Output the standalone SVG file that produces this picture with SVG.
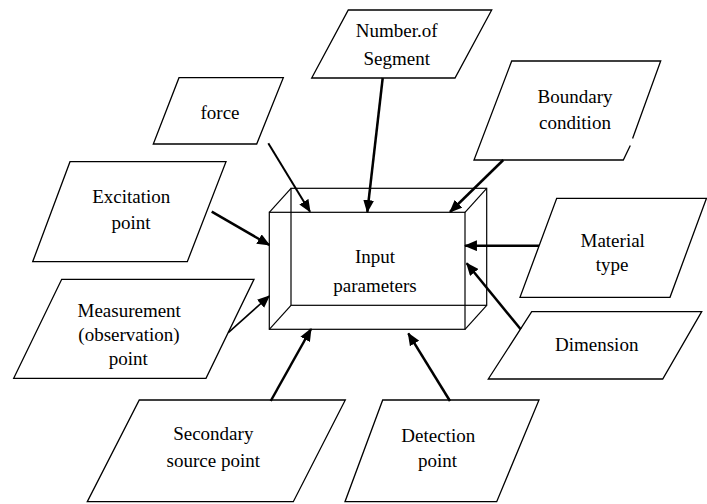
<svg xmlns="http://www.w3.org/2000/svg" width="707" height="504" viewBox="0 0 707 504">
  <style>
    .shape { fill: #ffffff; stroke: #000000; stroke-width: 1.3; stroke-linejoin: miter; }
    .wire { fill: none; stroke: #000000; stroke-width: 1.2; }
    .label { fill: #000000; text-anchor: middle; font-family: "Liberation Serif", "Times New Roman", serif; font-size: 19px; }
    .arrow { fill: none; stroke: #000000; stroke-width: 2.5; marker-end: url(#head); }
    .arrow.thin { stroke-width: 1.6; marker-end: url(#headThin); }
    .arrow.mid { stroke-width: 2; marker-end: url(#headMid); }
  </style>
  <defs>
    <marker id="head" viewBox="0 0 12 10" refX="11" refY="5" markerWidth="5.2" markerHeight="4.4" orient="auto" markerUnits="strokeWidth">
      <path d="M0,0 L12,5 L0,10 Z" fill="#000000"/>
    </marker>
    <marker id="headMid" viewBox="0 0 12 10" refX="11" refY="5" markerWidth="6.4" markerHeight="5.4" orient="auto" markerUnits="strokeWidth">
      <path d="M0,0 L12,5 L0,10 Z" fill="#000000"/>
    </marker>
    <marker id="headThin" viewBox="0 0 12 10" refX="11" refY="5" markerWidth="8" markerHeight="6.8" orient="auto" markerUnits="strokeWidth">
      <path d="M0,0 L12,5 L0,10 Z" fill="#000000"/>
    </marker>
  </defs>

  <rect x="0" y="0" width="707" height="504" fill="#ffffff"/>

  <!-- central wireframe box: back face, front face and the four depth edges -->
  <g id="input-parameters">
    <rect class="wire" x="291" y="188.3" width="195.7" height="117"/>
    <rect class="wire" x="269.3" y="212.3" width="195.7" height="117"/>
    <line class="wire" x1="291" y1="188.3" x2="269.3" y2="212.3"/>
    <line class="wire" x1="486.7" y1="188.3" x2="465" y2="212.3"/>
    <line class="wire" x1="486.7" y1="305.3" x2="465" y2="329.3"/>
    <line class="wire" x1="291" y1="305.3" x2="269.3" y2="329.3"/>
    <text class="label" x="375" y="262.7">Input</text>
    <text class="label" x="375" y="291.7">parameters</text>
  </g>

  <g id="force">
    <polygon class="shape" points="179,77.7 283.3,77.7 256.7,144 153.3,144"/>
    <text class="label" x="220" y="119.3">force</text>
  </g>

  <g id="number-of-segment">
    <polygon class="shape" points="348.3,10 491.7,10 455,78 311.7,78"/>
    <text class="label" x="396.7" y="37.3">Number.of</text>
    <text class="label" x="396.7" y="65">Segment</text>
  </g>

  <!-- right edge drawn in two pieces with a small break -->
  <g id="boundary-condition">
    <polygon points="511.7,61 660.7,61 633,138 631,144 623.3,160 474,160" fill="#ffffff" stroke="none"/>
    <polyline class="shape" style="fill:none" points="632.6,138.5 660.7,61 511.7,61 474,160 623.3,160 630.3,145.5"/>
    <text class="label" x="575" y="103.3">Boundary</text>
    <text class="label" x="575" y="129">condition</text>
  </g>

  <g id="excitation-point">
    <polygon class="shape" points="70,161.7 226,161.7 187.3,261.7 32.7,261.7"/>
    <text class="label" x="131.3" y="203.3">Excitation</text>
    <text class="label" x="131" y="229.3">point</text>
  </g>

  <g id="material-type">
    <polygon class="shape" points="556.7,198.3 706.5,198.3 670,297.3 520,297.3"/>
    <text class="label" x="612.7" y="246.7">Material</text>
    <text class="label" x="612" y="270.7">type</text>
  </g>

  <g id="measurement-point">
    <polygon class="shape" points="61.7,279.3 254,279.3 206,378.3 13.7,378.3"/>
    <text class="label" x="129.2" y="316.7">Measurement</text>
    <text class="label" x="129" y="340.7">(observation)</text>
    <text class="label" x="128.3" y="365">point</text>
  </g>

  <g id="dimension">
    <polygon class="shape" points="531.7,311.7 701.7,311.7 662.7,379 488.3,379"/>
    <text class="label" x="596.7" y="351">Dimension</text>
  </g>

  <g id="secondary-source-point">
    <polygon class="shape" points="139.3,400 345.3,400 293.3,501.7 87.3,501.7"/>
    <text class="label" x="213.3" y="440">Secondary</text>
    <text class="label" x="213.3" y="466.7">source point</text>
  </g>

  <g id="detection-point">
    <polygon class="shape" points="382.7,400 539,400 496.7,501.7 345,501.7"/>
    <text class="label" x="438.3" y="441.7">Detection</text>
    <text class="label" x="437.5" y="466.7">point</text>
  </g>

  <!-- connectors -->
  <g id="connectors">
    <line class="arrow mid" x1="268.3" y1="143.3" x2="310" y2="211.7"/>
    <line class="arrow" x1="382.7" y1="78" x2="367.3" y2="212"/>
    <line class="arrow" x1="503.3" y1="160" x2="450" y2="212"/>
    <line class="arrow" x1="211.7" y1="211.7" x2="269.3" y2="245"/>
    <line class="arrow" x1="539" y1="245.7" x2="465" y2="245.7"/>
    <line class="arrow" x1="520.7" y1="329.3" x2="466.7" y2="263.3"/>
    <line class="arrow thin" x1="228.3" y1="332.7" x2="269.3" y2="296"/>
    <line class="arrow" x1="270.7" y1="401" x2="311" y2="329"/>
    <line class="arrow" x1="450" y1="401" x2="408.3" y2="333.3"/>
  </g>
</svg>
